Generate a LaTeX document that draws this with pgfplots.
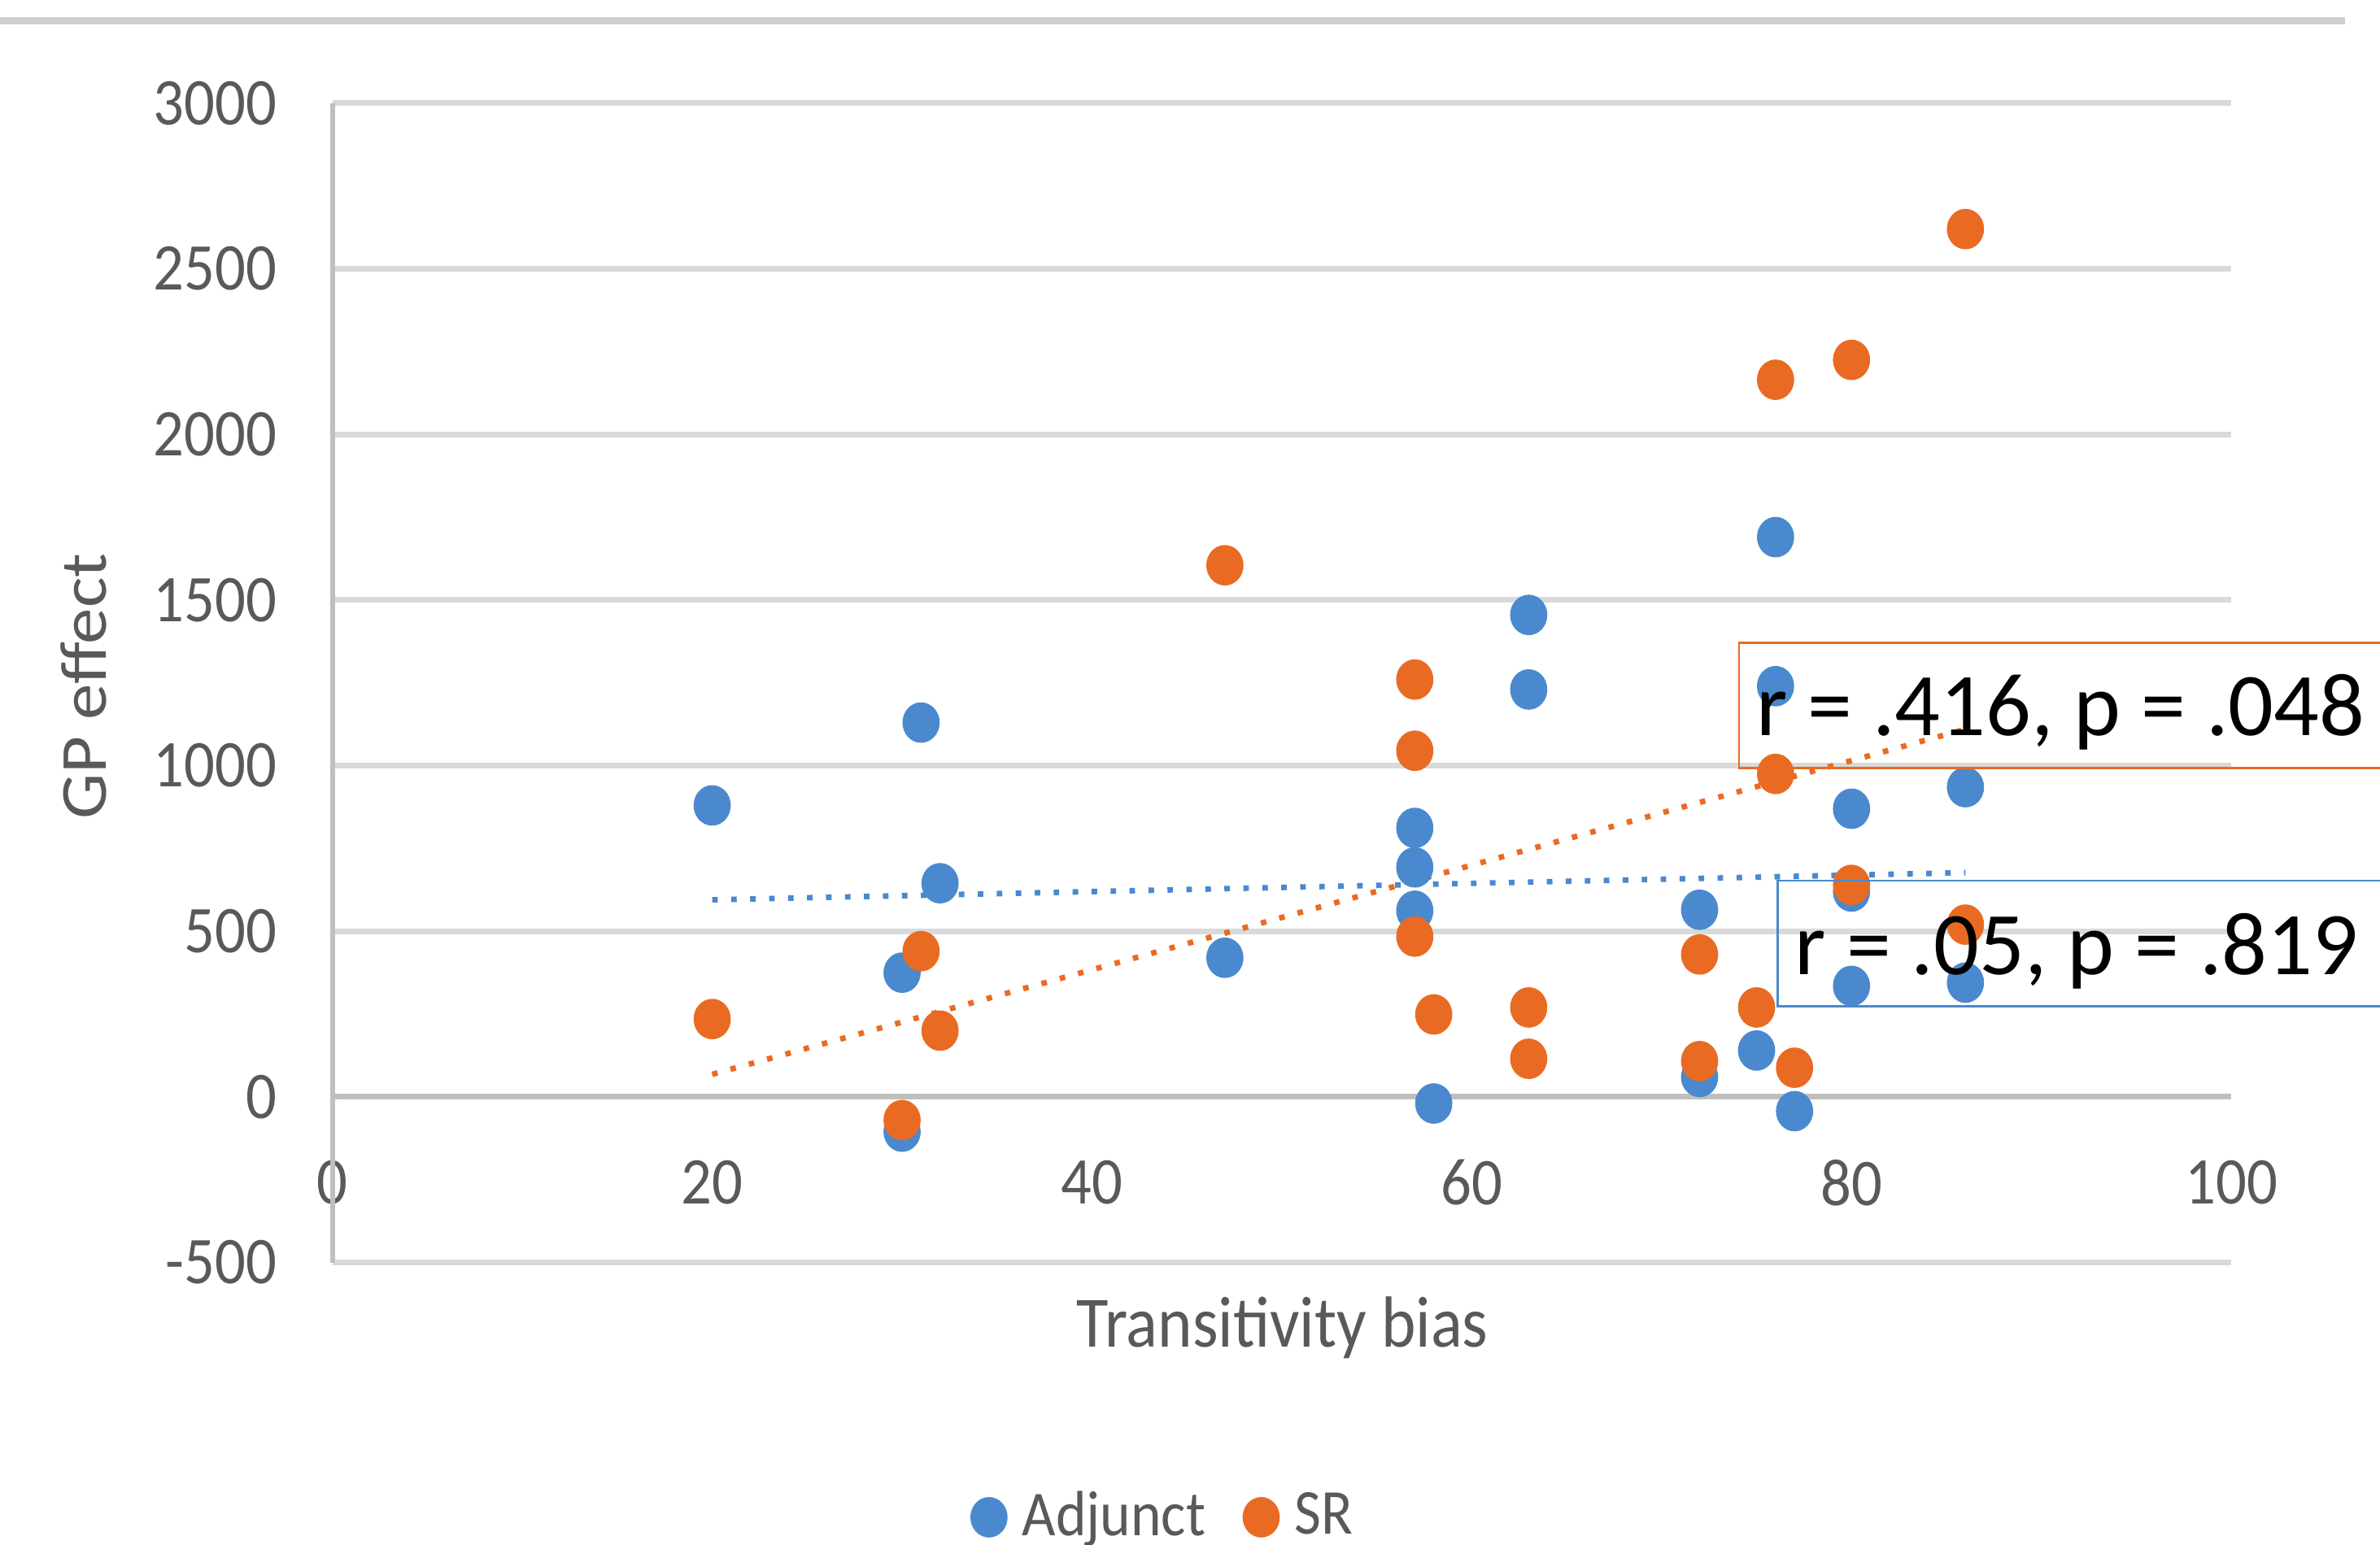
\documentclass[border=0pt]{standalone}
\usepackage{fontspec}
\setmainfont{Carlito}
\usepackage{graphicx}
\usepackage{pgfplots}
\pgfplotsset{compat=1.18}
\definecolor{cblue}{RGB}{74,137,206}
\definecolor{corange}{RGB}{233,107,35}
\definecolor{tgray}{RGB}{89,89,89}
\definecolor{gridc}{RGB}{217,217,217}
\definecolor{axisgray}{RGB}{191,191,191}
\definecolor{topline}{RGB}{208,208,208}
\newcommand{\sx}[1]{\scalebox{1}[1.1]{#1}}
\pgfplotsset{mylegend/.style={legend image code/.code={\draw[mark repeat=2,mark phase=2,##1] plot coordinates {(0pt,0pt)(3.7pt,0pt)(7.4pt,0pt)};}}}
\begin{document}
\begin{tikzpicture}
\useasboundingbox (0,0) rectangle (470.4pt,305.4pt);
\clip (0,0) rectangle (470.4pt,305.4pt);
\draw[line width=1.3pt, topline] (0,301.3pt) -- (463.5pt,301.3pt);
\begin{axis}[
  at={(65.7pt,55.8pt)}, anchor=south west,
  width=375.3pt, height=229.2pt, scale only axis,
  xmin=0, xmax=100, ymin=-500, ymax=3000,
  xtick={0,20,40,60,80,100},
  xticklabels={\sx{0},\sx{20},\sx{40},\sx{60},\sx{80},\sx{100}},
  ytick={-500,0,500,1000,1500,2000,2500,3000},
  yticklabels={\sx{-500},\sx{0},\sx{500},\sx{1000},\sx{1500},\sx{2000},\sx{2500},\sx{3000}},
  ymajorgrids, grid style={line width=1.1pt, gridc},
  extra y ticks={0}, extra y tick labels={},
  extra y tick style={grid=major, grid style={line width=1.1pt, axisgray}},
  extra x ticks={0}, extra x tick labels={},
  extra x tick style={grid=major, grid style={line width=1pt, axisgray}},
  axis line style={draw=none},
  major tick length=0pt,
  tick style={draw=none},
  xticklabel style={anchor=center, inner sep=0pt, yshift=15.8pt},
  yticklabel style={anchor=east, inner sep=0pt, xshift=-10.8pt},
  ticklabel style={font=\fontsize{12}{14}\selectfont, text=tgray},
  xlabel={\sx{Transitivity bias}},
  ylabel={\scalebox{1.1}[1]{GP effect}},
  label style={font=\fontsize{13}{15}\selectfont, text=tgray, inner sep=0pt},
  xlabel style={at={(axis description cs:0.5004,-0.0730)}, anchor=base},
  ylabel style={at={(axis description cs:-0.1193,0.4969)}, anchor=base},
  legend columns=2,
  legend style={at={(axis description cs:0.3365,-0.2422)}, anchor=south west,
    draw=none, fill=none, inner sep=0pt, outer sep=0pt,
    font=\fontsize{11.5}{13}\selectfont, text=tgray,
    nodes={inner sep=0pt},
    /tikz/every odd column/.append style={column sep=3.1pt},
    /tikz/every even column/.append style={column sep=7.5pt}},
]
\addplot[cblue, only marks, mark=*, mark size=3.8pt, line width=0.4pt,
  mark options={draw=cblue, fill=cblue, xscale=0.915}, mylegend]
coordinates {
(20,880) (30,375) (30,-105) (31,1130) (32,645) (47,420)
(57,812) (57,693) (57,562) (58,-20) (63,1455) (63,1230)
(72,565) (72,60) (75,140) (76,1690) (76,1240) (77,-43)
(80,870) (80,620) (80,335) (86,935) (86,345)
};
\addlegendentry{\sx{Adjunct}}
\addplot[corange, only marks, mark=*, mark size=3.8pt, line width=0.4pt,
  mark options={draw=corange, fill=corange, xscale=0.915}, mylegend]
coordinates {
(20,235) (30,-70) (31,440) (32,200) (47,1605)
(57,1260) (57,1045) (57,484) (58,249) (63,270) (63,115)
(72,430) (72,108) (75,270) (76,2165) (76,975) (77,88)
(80,2225) (80,640) (86,2620) (86,520)
};
\addlegendentry{\sx{SR}}
\addplot[cblue, line width=1.1pt, dash pattern=on 1.1pt off 2.65pt, forget plot]
coordinates {(20,595) (86,677)};
\addplot[corange, line width=1.1pt, dash pattern=on 1.1pt off 2.65pt, forget plot]
coordinates {(20,68) (86,1110)};
\end{axis}
\draw[corange, line width=0.45pt] (343.7pt,153.6pt) rectangle (490pt,178.3pt);
\node[anchor=base west, inner sep=0pt, font=\fontsize{17.7}{20}\selectfont] at (346.9pt,160pt) {r = .416, p = .048};
\draw[cblue, line width=0.45pt] (351.4pt,106.4pt) rectangle (490pt,131.3pt);
\node[anchor=base west, inner sep=0pt, font=\fontsize{17.7}{20}\selectfont] at (354.6pt,112.7pt) {r = .05, p = .819};
\end{tikzpicture}
\end{document}
